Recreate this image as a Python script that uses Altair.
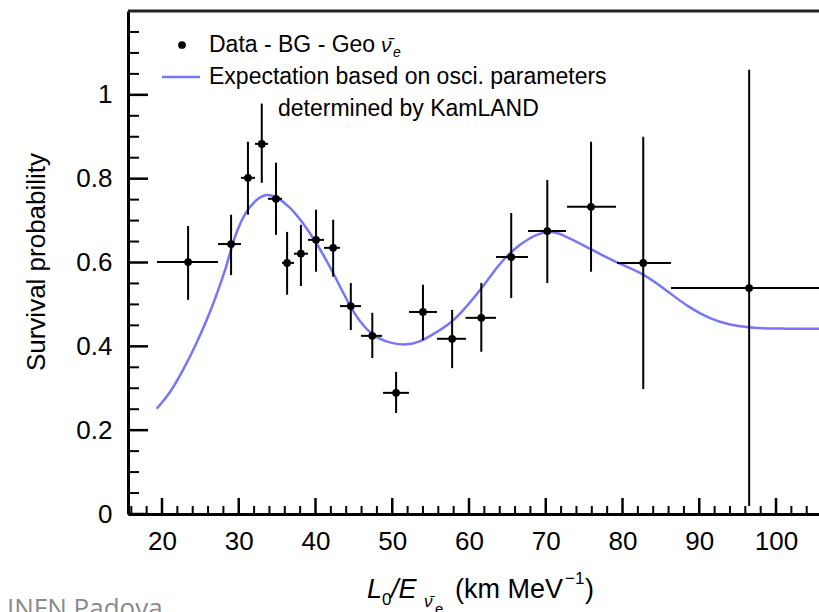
import altair as alt
import pandas as pd

# ---------------- data ----------------
pt_x = [23.4, 29.0, 31.2, 33.0, 34.85, 36.3, 38.1, 40.07, 42.3, 44.6,
        47.4, 50.5, 54.0, 57.8, 61.6, 65.5, 70.2, 75.9, 82.7, 96.5]
pt_y = [0.601, 0.644, 0.802, 0.883, 0.752, 0.599, 0.621, 0.654, 0.635, 0.496,
        0.425, 0.289, 0.482, 0.418, 0.468, 0.613, 0.675, 0.733, 0.599, 0.539]
bin_lo = [19.35, 27.3, 30.29, 32.12, 33.81, 35.64, 37.2, 39.02, 41.11, 43.19,
          45.93, 48.79, 52.18, 55.83, 59.55, 63.52, 67.69, 72.77, 79.28, 86.32]
bin_hi = [27.3, 30.29, 32.12, 33.81, 35.64, 37.2, 39.02, 41.11, 43.19, 45.93,
          48.66, 52.18, 55.83, 59.61, 63.52, 67.69, 72.64, 79.15, 86.32, 110.0]
err_lo = [0.511, 0.570, 0.714, 0.790, 0.666, 0.523, 0.544, 0.578, 0.566, 0.439,
          0.372, 0.241, 0.415, 0.348, 0.387, 0.515, 0.551, 0.578, 0.298, 0.019]
err_hi = [0.687, 0.714, 0.888, 0.979, 0.838, 0.673, 0.690, 0.726, 0.702, 0.551,
          0.480, 0.339, 0.547, 0.487, 0.551, 0.718, 0.797, 0.888, 0.900, 1.060]

curve_x = [19.30, 21.04, 22.78, 24.30, 26.25, 27.78, 28.51, 29.08, 29.81, 30.81,
           32.12, 33.64, 34.94, 36.68, 38.41, 40.16, 41.89, 43.19, 44.50, 46.23,
           47.97, 50.14, 51.88, 53.62, 55.00, 57.78, 59.74, 61.69, 63.65, 65.34,
           67.95, 70.16, 71.86, 76.03, 79.28, 82.67, 86.19, 88.40, 91.40, 94.01,
           96.61, 100.13, 105.6]
curve_y = [0.251, 0.288, 0.344, 0.399, 0.479, 0.558, 0.598, 0.638, 0.678, 0.718,
           0.749, 0.765, 0.757, 0.733, 0.694, 0.646, 0.590, 0.543, 0.495, 0.447,
           0.419, 0.406, 0.403, 0.411, 0.425, 0.456, 0.496, 0.539, 0.589, 0.625,
           0.661, 0.675, 0.671, 0.630, 0.599, 0.575, 0.527, 0.496, 0.465, 0.451,
           0.444, 0.442, 0.442]

x_major = [20, 30, 40, 50, 60, 70, 80, 90, 100]
x_minor = [v for v in range(16, 106, 2) if v % 10 != 0]
y_major = [0, 0.2, 0.4, 0.6, 0.8, 1.0]
y_minor = [round(0.05 * i, 2) for i in range(1, 24) if i % 4 != 0]

# ---------------- layout ----------------
W, H = 691, 503
FONT = "Liberation Sans"
BLUE = "#7676f6"

pts = pd.DataFrame({"x": pt_x, "y": pt_y, "xlo": bin_lo, "xhi": bin_hi,
                    "ylo": err_lo, "yhi": err_hi})
curve = pd.DataFrame({"x": curve_x, "y": curve_y})

xs = alt.Scale(domain=[15.57, 105.6], nice=False, zero=False)
ys = alt.Scale(domain=[0, 1.2], nice=False, zero=False)
xaxis = alt.Axis(values=x_major, format="d", ticks=False, grid=False, title=None,
                 domainColor="black", domainWidth=3, labelFont=FONT,
                 labelFontSize=26, labelColor="black", labelPadding=14)
yaxis = alt.Axis(values=y_major, format="~g", ticks=False, grid=False, title=None,
                 domainColor="black", domainWidth=3, labelFont=FONT,
                 labelFontSize=26, labelColor="black", labelPadding=16)

def X(f):
    return alt.X(f, type="quantitative", scale=xs, axis=xaxis)

def Y(f):
    return alt.Y(f, type="quantitative", scale=ys, axis=yaxis)

line = alt.Chart(curve).mark_line(color=BLUE, strokeWidth=2.5,
                                  interpolate="basis", clip=True).encode(
    x=X("x"), y=Y("y"))
xerr = alt.Chart(pts).mark_rule(color="black", strokeWidth=2, clip=True).encode(
    x=X("xlo"), x2="xhi", y=Y("y"))
yerr = alt.Chart(pts).mark_rule(color="black", strokeWidth=2, clip=True).encode(
    x=X("x"), y=Y("ylo"), y2="yhi")
dots = alt.Chart(pts).mark_circle(color="black", size=60, opacity=1).encode(
    x=X("x"), y=Y("y"))

ytk_major = alt.Chart(pd.DataFrame({"v": y_major})).mark_rule(
    color="black", strokeWidth=2.5).encode(y=Y("v"), x=alt.value(0), x2=alt.value(20))
ytk_minor = alt.Chart(pd.DataFrame({"v": y_minor})).mark_rule(
    color="black", strokeWidth=2).encode(y=Y("v"), x=alt.value(0), x2=alt.value(11))
xtk_major = alt.Chart(pd.DataFrame({"v": x_major})).mark_rule(
    color="black", strokeWidth=2.5).encode(x=X("v"), y=alt.value(H), y2=alt.value(H - 16))
xtk_minor = alt.Chart(pd.DataFrame({"v": x_minor})).mark_rule(
    color="black", strokeWidth=2).encode(x=X("v"), y=alt.value(H), y2=alt.value(H - 8))
top = alt.Chart(pd.DataFrame({"v": [0]})).mark_rule(
    color="#222222", strokeWidth=3).encode(x=alt.value(0), x2=alt.value(W), y=alt.value(0))


def txt(s, x, y, size, align="left", baseline="middle", italic=False,
        angle=0, color="black", font=FONT):
    kw = dict(align=align, baseline=baseline, fontSize=size, font=font,
              color=color)
    if italic:
        kw["fontStyle"] = "italic"
    if angle:
        kw["angle"] = angle
    return alt.Chart(pd.DataFrame({"t": [s]})).mark_text(**kw).encode(
        x=alt.value(x), y=alt.value(y), text="t:N")


leg_dot = alt.Chart(pd.DataFrame({"v": [0]})).mark_circle(
    color="black", size=60, opacity=1).encode(x=alt.value(54), y=alt.value(34))
leg_line = alt.Chart(pd.DataFrame({"v": [0]})).mark_rule(
    color=BLUE, strokeWidth=2.5).encode(x=alt.value(34), x2=alt.value(72), y=alt.value(66))

texts = [
    txt("Data - BG - Geo", 81, 34, 23),
    txt("\u03bd\u0304", 253, 35, 21, italic=True),
    txt("e", 265, 42, 14, italic=True),
    txt("Expectation based on osci. parameters", 81, 66, 23),
    txt("determined by KamLAND", 150, 98, 23),
    txt("Survival probability", -91, 251, 26, align="center", angle=270),
    # x-axis title  L0 / E_(nu-bar e) (km MeV^-1)
    txt("L", 239, 587, 27, baseline="alphabetic", italic=True),
    txt("0", 254, 594, 17, baseline="alphabetic"),
    txt("/E", 263, 587, 27, baseline="alphabetic", italic=True),
    txt("\u03bd\u0304", 296, 596, 17, baseline="alphabetic", italic=True),
    txt("e", 307, 603, 15, baseline="alphabetic"),
    txt("(km MeV", 327, 587, 27, baseline="alphabetic"),
    txt("\u22121", 437, 573, 17, baseline="alphabetic"),
    txt(")", 457, 587, 27, baseline="alphabetic"),
    txt("INFN Padova", -121, 606, 26, baseline="alphabetic",
        color="#8a8a8a", font="Open Sans"),
]

chart = alt.layer(
    line, xerr, yerr, dots,
    ytk_major, ytk_minor, xtk_major, xtk_minor, top,
    leg_dot, leg_line, *texts,
).properties(
    width=W, height=H,
    autosize=alt.AutoSizeParams(type="none"),
    padding={"left": 128, "top": 11, "right": 0, "bottom": 98},
).configure_view(stroke=None).configure(background="white")

chart.save("out.html", embed_options={"renderer": "svg", "actions": False})
